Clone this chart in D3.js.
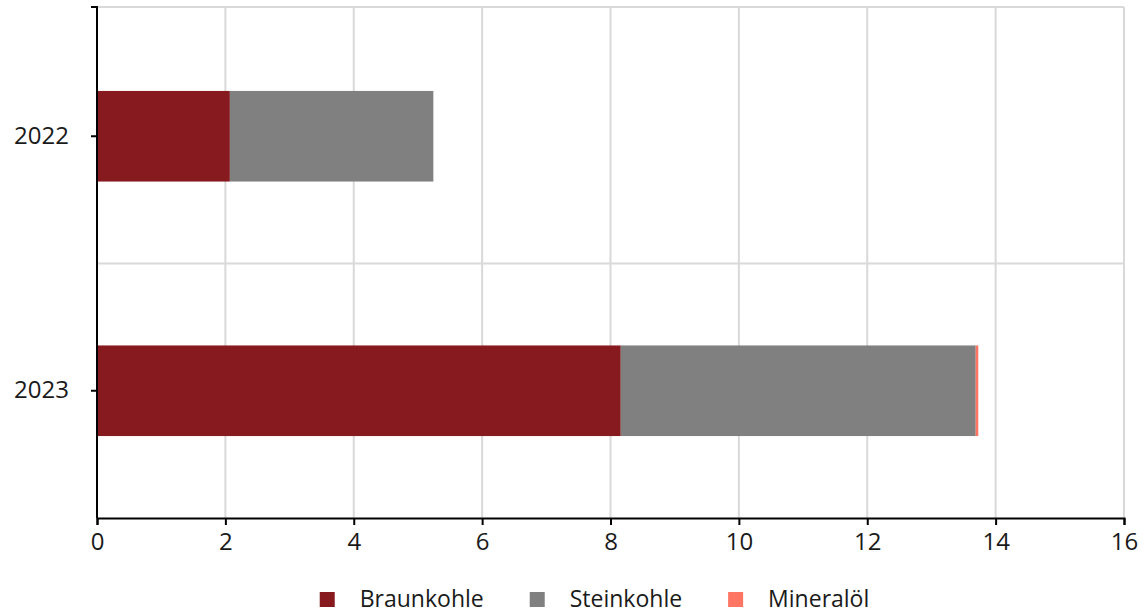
<!DOCTYPE html>
<html>
<head>
<meta charset="utf-8">
<script src="https://cdn.jsdelivr.net/npm/d3@7"></script>
<style>
  html, body { margin: 0; padding: 0; background: #fff; }
  svg { display: block; font-family: "Open Sans", sans-serif; }
</style>
</head>
<body>
<svg id="chart" width="1144" height="616"></svg>
<script>
const categories = ["2022", "2023"];
const seriesNames = ["Braunkohle", "Steinkohle", "Mineralöl"];
const braunkohle = [2.07, 8.16];
const steinkohle = [3.17, 5.53];
const mineraloel = [0.0, 0.04];
const xTicks = [0, 2, 4, 6, 8, 10, 12, 14, 16];
const colors = ["#861A1E", "#808080", "#FF7563"];

const svg = d3.select("#chart");
const m = { left: 97, right: 1124, top: 7, bandTop: 9, bottom: 518 };

const x = d3.scaleLinear().domain([0, 16]).range([m.left, m.right]);
const y = d3.scaleBand().domain(categories).range([m.bandTop, m.bottom])
  .paddingInner(0.644).paddingOuter(0.322);
const yCell = d3.scaleBand().domain(categories).range([m.bandTop, m.bottom]);

// vertical gridlines
svg.append("g").selectAll("line").data(xTicks.filter(d => d > 0)).join("line")
  .attr("x1", d => x(d)).attr("x2", d => x(d))
  .attr("y1", m.top).attr("y2", m.bottom)
  .attr("stroke", "#d9d9d9").attr("stroke-width", 2);

// horizontal gridlines at category boundaries
const hLines = [m.top].concat(categories.slice(1).map(c => yCell(c)));
svg.append("g").selectAll("line").data(hLines).join("line")
  .attr("x1", m.left).attr("x2", m.right)
  .attr("y1", d => d).attr("y2", d => d)
  .attr("stroke", "#d9d9d9").attr("stroke-width", 2);

// stacked bars
const rows = categories.map((c, i) => ({ cat: c, Braunkohle: braunkohle[i], Steinkohle: steinkohle[i], "Mineralöl": mineraloel[i] }));
const stack = d3.stack().keys(seriesNames)(rows);
svg.append("g").selectAll("g").data(stack).join("g")
  .attr("fill", (d, i) => colors[i])
  .selectAll("rect").data(d => d).join("rect")
  .attr("x", d => x(d[0]))
  .attr("width", d => Math.max(0, x(d[1]) - x(d[0])))
  .attr("y", d => y(d.data.cat))
  .attr("height", y.bandwidth());

// x axis
const xAxis = svg.append("g").attr("transform", `translate(0,${m.bottom})`)
  .call(d3.axisBottom(x).tickValues(xTicks).tickSize(7).tickPadding(8).tickFormat(d3.format("d")));
xAxis.select(".domain").attr("stroke", "#000").attr("stroke-width", 2);
xAxis.selectAll(".tick line").attr("stroke", "#000").attr("stroke-width", 2);
xAxis.selectAll("text").attr("font-size", 24).attr("fill", "#1a1a1a")
  .attr("font-family", "'Open Sans', sans-serif");

// y axis
const yAxis = svg.append("g").attr("transform", `translate(${m.left},0)`)
  .call(d3.axisLeft(y).tickSize(6).tickPadding(22));
yAxis.select(".domain").attr("d", `M-6,${m.top}H0V${m.bottom}`).attr("stroke", "#000").attr("stroke-width", 2).attr("fill", "none");
yAxis.selectAll(".tick line").attr("stroke", "#000").attr("stroke-width", 2);
yAxis.selectAll("text").attr("font-size", 24).attr("fill", "#1a1a1a")
  .attr("font-family", "'Open Sans', sans-serif");

// legend
const legend = svg.append("g");
const items = legend.selectAll("g").data(seriesNames).join("g");
items.append("rect").attr("width", 15).attr("height", 15).attr("y", -15)
  .attr("fill", (d, i) => colors[i]);
items.append("text").attr("x", 40).attr("y", 0)
  .attr("font-size", 23).attr("fill", "#1a1a1a").text(d => d);
let cx = 0;
items.each(function () {
  const g = d3.select(this);
  g.attr("transform", `translate(${cx},0)`);
  cx += 40 + g.select("text").node().getComputedTextLength() + 46;
});
const total = cx - 46;
legend.attr("transform", `translate(${594.5 - total / 2},607)`);
</script>
</body>
</html>
